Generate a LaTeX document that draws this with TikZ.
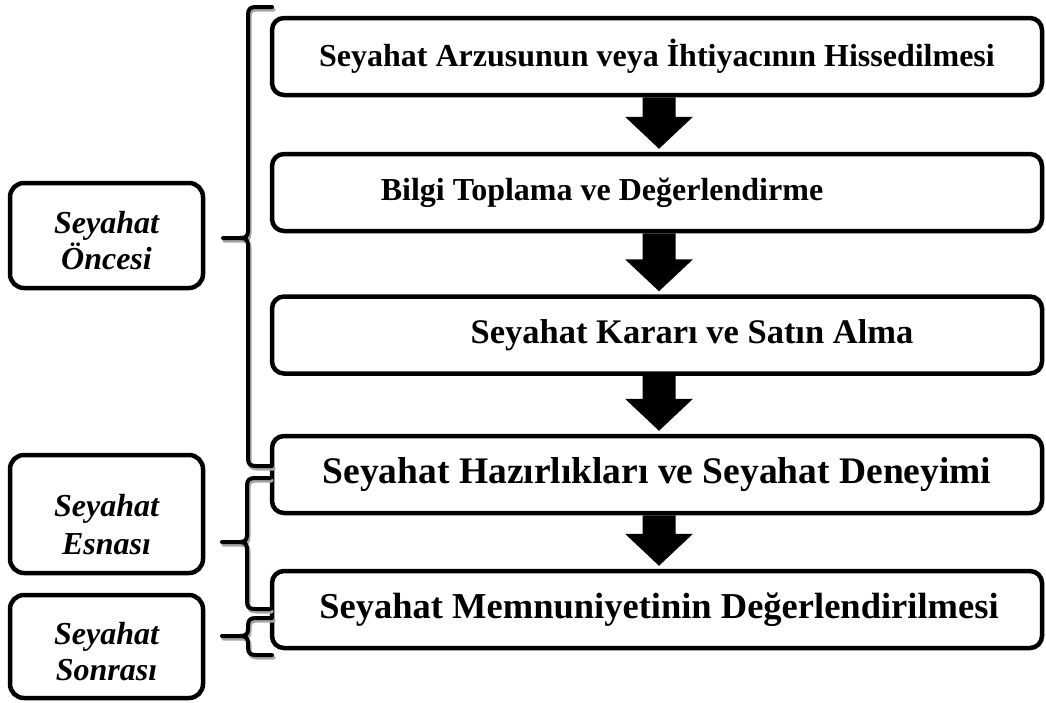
\documentclass[tikz,border=0pt]{standalone}
\usepackage{fontspec}
\setmainfont{Liberation Serif}
\usetikzlibrary{calc}
\newcommand\bracepath[6]{% #1 xv, #2 ytop, #3 ycusp, #4 ybot, #5 xright, #6 xarm
 (#5,#2) -- ({#1+8},#2) .. controls ({#1+2},#2) and (#1,{#2+2}) .. (#1,{#2+8}) -- (#1,{#3-7}) .. controls (#1,{#3-2}) and ({#1-2},#3) .. ({#1-8},#3) -- (#6,#3)
 (#6,#3) -- ({#1-8},#3) .. controls ({#1-2},#3) and (#1,{#3+2}) .. (#1,{#3+7}) -- (#1,{#4-8}) .. controls (#1,{#4-2}) and ({#1+2},#4) .. ({#1+8},#4) -- (#5,#4)}
\newcommand\blockarrow[2]{%
 \fill let \p1=(#1.south), \p2=(#2.north) in
 (\x1+2pt-16.5pt,\y1) -- (\x1+2pt+16.5pt,\y1) -- (\x1+2pt+16.5pt,\y2+35pt) -- (\x1+2pt+34pt,\y2+35pt)
 -- (\x1+2pt,\y2+3pt) -- (\x1+2pt-34pt,\y2+35pt) -- (\x1+2pt-16.5pt,\y2+35pt) -- cycle;}
\begin{document}
\begin{tikzpicture}[x=1pt,y=-1pt,
  mainbox/.style={draw, line width=4.5pt, rounded corners=12pt, minimum width=770pt,
    minimum height=77pt, inner sep=0pt, font=\bfseries\fontsize{32}{38}\selectfont},
  sidebox/.style={draw, line width=4.5pt, rounded corners=14pt, minimum width=193pt,
    inner sep=0pt, align=center, font=\bfseries\itshape\fontsize{32}{36}\selectfont},
  brk/.style={line width=4pt, line join=round, line cap=round},
  brkshadow/.style={brk, draw=black!35}]
\useasboundingbox (0,0) rectangle (1046,702);
\fill[white] (0,0) rectangle (1046,702);

% main boxes
\node[mainbox] (b1) at (657,56.5) {Seyahat Arzusunun veya İhtiyacının Hissedilmesi};
\node[mainbox] (b2) at (657,192.5) {Bilgi Toplama ve Değerlendirme\hspace*{110pt}};
\node[mainbox, font=\bfseries\fontsize{34.5}{40}\selectfont] (b3) at (657,335) {\hspace*{70pt}Seyahat Kararı ve Satın Alma};
\node[mainbox, font=\bfseries\fontsize{37.5}{44}\selectfont] (b4) at (657,474.5) {Seyahat Hazırlıkları ve Seyahat Deneyimi};
\node[mainbox, font=\bfseries\fontsize{36.5}{43}\selectfont] (b5) at (657,609.5) {\hspace*{4pt}Seyahat Memnuniyetinin Değerlendirilmesi};

% block arrows
\blockarrow{b1}{b2}
\blockarrow{b2}{b3}
\blockarrow{b3}{b4}
\blockarrow{b4}{b5}

% side boxes
\node[sidebox, minimum height=105pt] (s1) at (106.5,235.5) {\rule{0pt}{32pt}Seyahat\\Öncesi};
\node[sidebox, minimum height=118pt] (s2) at (106.5,514) {\rule{0pt}{44pt}Seyahat\\[2pt]Esnası};
\node[sidebox, minimum height=103pt] (s3) at (106.5,646.5) {\rule{0pt}{32pt}Seyahat\\Sonrası};

% brackets
\begin{scope}[shift={(1.5,2.5)}]
\draw[brkshadow] \bracepath{248}{7}{238}{466}{272}{223};
\draw[brkshadow] \bracepath{247}{478}{542}{609}{270}{222};
\draw[brkshadow] \bracepath{248}{618}{636}{655}{272}{222};
\end{scope}
\draw[brk] \bracepath{248}{7}{238}{466}{272}{223};
\draw[brk] \bracepath{247}{478}{542}{609}{270}{222};
\draw[brk] \bracepath{248}{618}{636}{655}{272}{222};
\end{tikzpicture}
\end{document}
